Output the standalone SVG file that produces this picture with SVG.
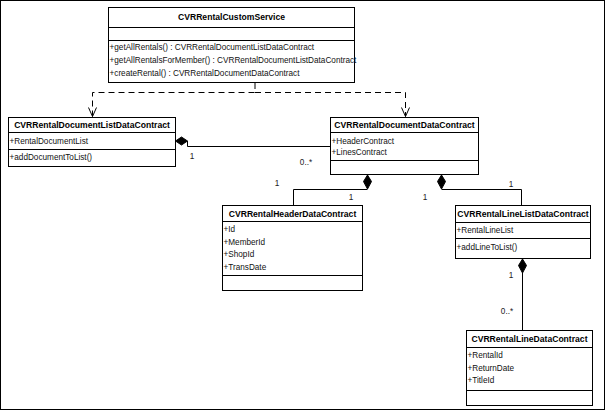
<svg xmlns="http://www.w3.org/2000/svg" width="606" height="411" viewBox="0 0 606 411">
<defs>
<style>
.box{fill:#fff;stroke:#000;stroke-width:1}
.sep{stroke:#000;stroke-width:1}
.t{font-family:"Liberation Sans",Arial,sans-serif;font-size:8.6px;font-weight:bold;fill:#000;text-anchor:middle}
.m{font-family:"Liberation Sans",Arial,sans-serif;font-size:8.2px;fill:#111}
.lbl{font-family:"Liberation Sans",Arial,sans-serif;font-size:8.2px;fill:#222;text-anchor:middle}
.dash{fill:none;stroke:#000;stroke-width:1;stroke-dasharray:6,4}
.solid{fill:none;stroke:#000;stroke-width:1}
.dia{fill:#000;stroke:#000;stroke-width:1}
</style>
<marker id="open" viewBox="0 0 10 10" refX="10" refY="5" markerWidth="10" markerHeight="10" markerUnits="userSpaceOnUse" orient="auto">
<path d="M1,1 L10,5 L1,9" fill="none" stroke="#000" stroke-width="1"/>
</marker>
</defs>
<rect x="0.5" y="0.5" width="604" height="409" fill="#fff" stroke="#000" stroke-width="1"/>

<g id="connectors">
<path class="dash" d="M255,83 V92.5 H92.5 V116.5" marker-end="url(#open)"/>
<path class="dash" d="M255,92.5 H405.5 V116.5" marker-end="url(#open)"/>
<path class="dia" d="M175.5,141 L181.5,137 L187.5,141 L181.5,145 Z"/>
<path class="solid" d="M187.5,141 V146.5 H330.5"/>
<path class="dia" d="M367.5,175 L371.5,181.5 L367.5,189 L363.5,181.5 Z"/>
<path class="solid" d="M367.5,189.5 H293.5 V205.5"/>
<path class="dia" d="M441.5,175 L445.5,181.5 L441.5,189 L437.5,181.5 Z"/>
<path class="solid" d="M441.5,189.5 H521.5 V205.5"/>
<path class="dia" d="M522.5,259 L526.5,265.5 L522.5,273 L518.5,265.5 Z"/>
<path class="solid" d="M522.5,273 V330.5"/>
<text class="lbl" x="192" y="159">1</text>
<text class="lbl" x="306" y="165">0..*</text>
<text class="lbl" x="277" y="186">1</text>
<text class="lbl" x="351" y="200">1</text>
<text class="lbl" x="425" y="200">1</text>
<text class="lbl" x="511" y="187">1</text>
<text class="lbl" x="511" y="278">1</text>
<text class="lbl" x="507" y="314">0..*</text>
</g>

<g id="CVRRentalCustomService">
<rect class="box" x="108.5" y="7.5" width="246" height="75"/>
<line class="sep" x1="108.5" y1="27.5" x2="354.5" y2="27.5"/>
<line class="sep" x1="108.5" y1="40.5" x2="354.5" y2="40.5"/>
<text class="t" x="231.5" y="20">CVRRentalCustomService</text>
<text class="m" x="109.5" y="50">+getAllRentals() : CVRRentalDocumentListDataContract</text>
<text class="m" x="109.5" y="63">+getAllRentalsForMember() : CVRRentalDocumentListDataContract</text>
<text class="m" x="109.5" y="76">+createRental() : CVRRentalDocumentDataContract</text>
</g>

<g id="CVRRentalDocumentListDataContract">
<rect class="box" x="8.5" y="117.5" width="167" height="49"/>
<line class="sep" x1="8.5" y1="132.5" x2="175.5" y2="132.5"/>
<line class="sep" x1="8.5" y1="149.5" x2="175.5" y2="149.5"/>
<text class="t" x="92" y="128">CVRRentalDocumentListDataContract</text>
<text class="m" x="9.5" y="144">+RentalDocumentList</text>
<text class="m" x="9.5" y="160">+addDocumentToList()</text>
</g>

<g id="CVRRentalDocumentDataContract">
<rect class="box" x="330.5" y="117.5" width="148" height="57"/>
<line class="sep" x1="330.5" y1="132.5" x2="478.5" y2="132.5"/>
<line class="sep" x1="330.5" y1="160.5" x2="478.5" y2="160.5"/>
<text class="t" x="404.5" y="128">CVRRentalDocumentDataContract</text>
<text class="m" x="331.5" y="144">+HeaderContract</text>
<text class="m" x="331.5" y="155">+LinesContract</text>
</g>

<g id="CVRRentalHeaderDataContract">
<rect class="box" x="222.5" y="205.5" width="140" height="85"/>
<line class="sep" x1="222.5" y1="221.5" x2="362.5" y2="221.5"/>
<line class="sep" x1="222.5" y1="275.5" x2="362.5" y2="275.5"/>
<text class="t" x="292.5" y="216.5">CVRRentalHeaderDataContract</text>
<text class="m" x="223.5" y="232">+Id</text>
<text class="m" x="223.5" y="244.5">+MemberId</text>
<text class="m" x="223.5" y="257">+ShopId</text>
<text class="m" x="223.5" y="269.5">+TransDate</text>
</g>

<g id="CVRRentalLineListDataContract">
<rect class="box" x="455.5" y="205.5" width="135" height="53"/>
<line class="sep" x1="455.5" y1="222.5" x2="590.5" y2="222.5"/>
<line class="sep" x1="455.5" y1="238.5" x2="590.5" y2="238.5"/>
<text class="t" x="523" y="217">CVRRentalLineListDataContract</text>
<text class="m" x="456.5" y="233">+RentalLineList</text>
<text class="m" x="456.5" y="250">+addLineToList()</text>
</g>

<g id="CVRRentalLineDataContract">
<rect class="box" x="466.5" y="330.5" width="126" height="75"/>
<line class="sep" x1="466.5" y1="347.5" x2="592.5" y2="347.5"/>
<line class="sep" x1="466.5" y1="390.5" x2="592.5" y2="390.5"/>
<text class="t" x="529.5" y="342">CVRRentalLineDataContract</text>
<text class="m" x="467.5" y="358">+RentalId</text>
<text class="m" x="467.5" y="371">+ReturnDate</text>
<text class="m" x="467.5" y="383">+TitleId</text>
</g>
</svg>
